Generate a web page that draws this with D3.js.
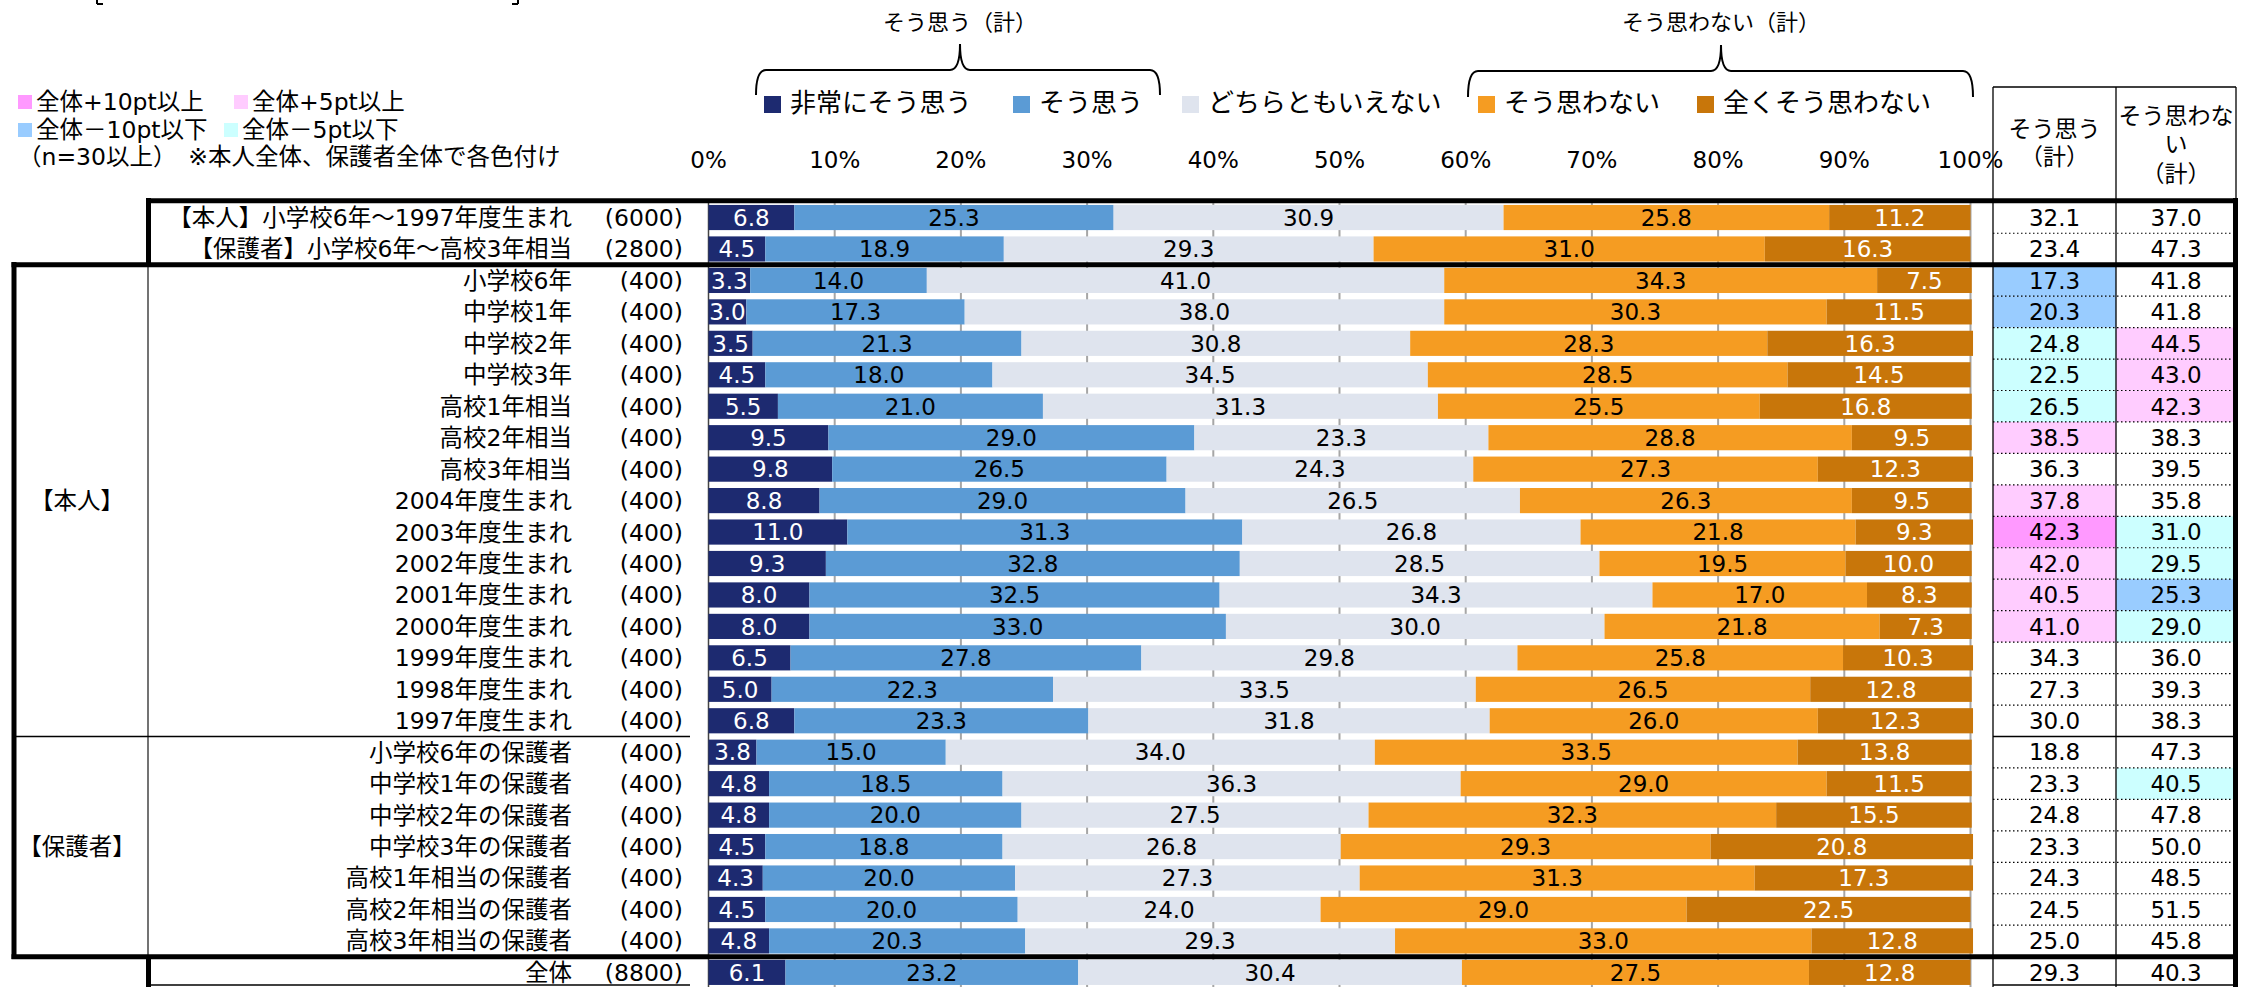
<!DOCTYPE html>
<html><head><meta charset="utf-8">
<script src="https://cdn.jsdelivr.net/npm/d3@7"></script>
<style>
body{margin:0;background:#fff;}
text{font-family:"DejaVu Sans","Noto Sans CJK JP",sans-serif;fill:#000;}
</style></head><body>
<svg id="c" width="2252" height="987"></svg>
<script>
// ---------------- DATA ----------------
const categories = [
  "【本人】小学校6年～1997年度生まれ","【保護者】小学校6年～高校3年相当",
  "小学校6年","中学校1年","中学校2年","中学校3年","高校1年相当","高校2年相当","高校3年相当",
  "2004年度生まれ","2003年度生まれ","2002年度生まれ","2001年度生まれ","2000年度生まれ",
  "1999年度生まれ","1998年度生まれ","1997年度生まれ",
  "小学校6年の保護者","中学校1年の保護者","中学校2年の保護者","中学校3年の保護者",
  "高校1年相当の保護者","高校2年相当の保護者","高校3年相当の保護者","全体"
];
const sampleSizes = ["(6000)","(2800)","(400)","(400)","(400)","(400)","(400)","(400)","(400)",
  "(400)","(400)","(400)","(400)","(400)","(400)","(400)","(400)",
  "(400)","(400)","(400)","(400)","(400)","(400)","(400)","(8800)"];
const seriesNames = ["非常にそう思う","そう思う","どちらともいえない","そう思わない","全くそう思わない"];
const verySo   = [6.8,4.5,3.3,3.0,3.5,4.5,5.5,9.5,9.8,8.8,11.0,9.3,8.0,8.0,6.5,5.0,6.8,3.8,4.8,4.8,4.5,4.3,4.5,4.8,6.1];
const so       = [25.3,18.9,14.0,17.3,21.3,18.0,21.0,29.0,26.5,29.0,31.3,32.8,32.5,33.0,27.8,22.3,23.3,15.0,18.5,20.0,18.8,20.0,20.0,20.3,23.2];
const neither  = [30.9,29.3,41.0,38.0,30.8,34.5,31.3,23.3,24.3,26.5,26.8,28.5,34.3,30.0,29.8,33.5,31.8,34.0,36.3,27.5,26.8,27.3,24.0,29.3,30.4];
const notSo    = [25.8,31.0,34.3,30.3,28.3,28.5,25.5,28.8,27.3,26.3,21.8,19.5,17.0,21.8,25.8,26.5,26.0,33.5,29.0,32.3,29.3,31.3,29.0,33.0,27.5];
const notAtAll = [11.2,16.3,7.5,11.5,16.3,14.5,16.8,9.5,12.3,9.5,9.3,10.0,8.3,7.3,10.3,12.8,12.3,13.8,11.5,15.5,20.8,17.3,22.5,12.8,12.8];
const agreeTotal    = [32.1,23.4,17.3,20.3,24.8,22.5,26.5,38.5,36.3,37.8,42.3,42.0,40.5,41.0,34.3,27.3,30.0,18.8,23.3,24.8,23.3,24.3,24.5,25.0,29.3];
const disagreeTotal = [37.0,47.3,41.8,41.8,44.5,43.0,42.3,38.3,39.5,35.8,31.0,29.5,25.3,29.0,36.0,39.3,38.3,47.3,40.5,47.8,50.0,48.5,51.5,45.8,40.3];
// highlight marks: p10 = +10pt, p5 = +5pt, m10 = -10pt, m5 = -5pt
const agreeMark    = ["","","m10","m10","m5","m5","m5","p5","","p5","p10","p5","p5","p5","","","","","","","","","","",""];
const disagreeMark = ["","","","","p5","p5","p5","","","","m5","m5","m10","m5","","","","","m5","","","","","",""];
const tickValues = [0,10,20,30,40,50,60,70,80,90,100];
const groupNames = ["【本人】","【保護者】"];
const groupFirst = [2,17];
const groupLast  = [16,23];
const markLegend = ["全体+10pt以上","全体+5pt以上","全体－10pt以下","全体－5pt以下"];
const markKeys = ["p10","p5","m10","m5"];

// ---------------- STYLE ----------------
const seriesColors = ["#1d2a70","#5b9bd5","#dfe4ee","#f59c22","#c8760a"];
const labelColors  = ["#fff","#000","#000","#000","#fff"];
const markColors = {p10:"#ff99ff",p5:"#ffccff",m10:"#99ccff",m5:"#ccffff"};

const svg = d3.select("#c");
svg.append("rect").attr("width",2252).attr("height",987).attr("fill","#fff");

const x = d3.scaleLinear().domain([0,100]).range([708.5,1970.5]);
const y = d3.scaleBand().domain(d3.range(categories.length)).range([201.8,988.1]).paddingInner(0.2).paddingOuter(0.1);
const step = y.step();
const rowTop = i => y(i) - step*0.1;
const rowMid = i => y(i) + y.bandwidth()/2;
const fmt = d3.format(".1f");

// gridlines
svg.append("g").selectAll("line").data(tickValues.filter(t=>t>0)).join("line")
  .attr("x1",d=>x(d)).attr("x2",d=>x(d)).attr("y1",203).attr("y2",987)
  .attr("stroke","#a6a6a6").attr("stroke-width",2);
svg.append("line").attr("x1",x(0)).attr("x2",x(0)).attr("y1",203).attr("y2",987)
  .attr("stroke","#444").attr("stroke-width",1.5);

// tick labels
svg.append("g").selectAll("text").data(tickValues).join("text")
  .attr("x",d=>x(d)).attr("y",160).attr("dy","0.36em").attr("text-anchor","middle")
  .attr("font-size",23).text(d=>d+"%");

// stacked bars
const rows = categories.map((c,i)=>({i, v:[verySo[i],so[i],neither[i],notSo[i],notAtAll[i]]}));
const stacked = d3.stack().keys([0,1,2,3,4]).value((d,k)=>d.v[k])(rows);
const layers = svg.append("g").selectAll("g").data(stacked).join("g").attr("fill",(d,k)=>seriesColors[k]);
layers.selectAll("rect").data(d=>d).join("rect")
  .attr("x",d=>x(d[0])).attr("width",d=>x(d[1])-x(d[0]))
  .attr("y",d=>y(d.data.i)).attr("height",y.bandwidth());
const lab = svg.append("g").selectAll("g").data(stacked).join("g");
lab.each(function(layer,k){
  d3.select(this).selectAll("text").data(layer).join("text")
    .attr("x",d=>x((d[0]+d[1])/2)).attr("y",d=>rowMid(d.data.i)).attr("dy","0.36em")
    .attr("text-anchor","middle").attr("font-size",23).style("fill",labelColors[k])
    .text(d=>fmt(d[1]-d[0]));
});

// table cells
const colL = 1993, colM = 2116, colR = 2236;
const tbl = svg.append("g");
tbl.selectAll("rect.a").data(d3.range(categories.length).filter(i=>agreeMark[i])).join("rect")
  .attr("x",colL).attr("width",colM-colL).attr("y",i=>rowTop(i)).attr("height",step)
  .attr("fill",i=>markColors[agreeMark[i]]);
tbl.selectAll("rect.b").data(d3.range(categories.length).filter(i=>disagreeMark[i])).join("rect")
  .attr("x",colM).attr("width",colR-colM).attr("y",i=>rowTop(i)).attr("height",step)
  .attr("fill",i=>markColors[disagreeMark[i]]);
tbl.selectAll("text.a").data(agreeTotal).join("text")
  .attr("x",(colL+colM)/2).attr("y",(d,i)=>rowMid(i)).attr("dy","0.36em")
  .attr("text-anchor","middle").attr("font-size",23).text(d=>fmt(d));
tbl.selectAll("text.b").data(disagreeTotal).join("text")
  .attr("x",(colM+colR)/2).attr("y",(d,i)=>rowMid(i)).attr("dy","0.36em")
  .attr("text-anchor","middle").attr("font-size",23).text(d=>fmt(d));

// dotted separators
const dotted = d3.range(1,categories.length).filter(i=>i!==2 && i!==17 && i!==24);
tbl.selectAll("line.d").data(dotted).join("line")
  .attr("x1",colL).attr("x2",colR).attr("y1",i=>rowTop(i)).attr("y2",i=>rowTop(i))
  .attr("stroke","#000").attr("stroke-width",1.2).attr("stroke-dasharray","1.5,2.5");

// row labels
const lbl = svg.append("g").attr("font-size",23.5);
lbl.selectAll("text.c").data(categories).join("text")
  .attr("x",572).attr("y",(d,i)=>rowMid(i)).attr("dy","0.36em").attr("text-anchor","end").text(d=>d);
lbl.selectAll("text.n").data(sampleSizes).join("text")
  .attr("x",683).attr("y",(d,i)=>rowMid(i)).attr("dy","0.36em").attr("text-anchor","end").text(d=>d);
lbl.selectAll("text.g").data(groupNames).join("text")
  .attr("x",77).attr("y",(d,k)=>(rowMid(groupFirst[k])+rowMid(groupLast[k]))/2).attr("dy","0.36em")
  .attr("text-anchor","middle").text(d=>d);

// table header
const hdr = svg.append("g").attr("font-size",23).attr("text-anchor","middle");
hdr.append("text").attr("x",(colL+colM)/2).attr("y",129).attr("dy","0.36em").text("そう思う");
hdr.append("text").attr("x",(colL+colM)/2).attr("y",157).attr("dy","0.36em").text("（計）");
hdr.append("text").attr("x",(colM+colR)/2).attr("y",116).attr("dy","0.36em").text("そう思わな");
hdr.append("text").attr("x",(colM+colR)/2).attr("y",144).attr("dy","0.36em").text("い");
hdr.append("text").attr("x",(colM+colR)/2).attr("y",174).attr("dy","0.36em").text("（計）");

// lines
const L = svg.append("g").attr("stroke","#000").attr("fill","none");
function ln(x1,y1,x2,y2,w,c){L.append("line").attr("x1",x1).attr("y1",y1).attr("x2",x2).attr("y2",y2).attr("stroke-width",w).attr("stroke",c||"#000");}
// table thin lines
ln(colL,87,colR,87,1.3);
ln(colL,87,colL,987,1.3);
ln(colM,87,colM,987,1.3);
ln(colR,87,colR,200,1.3);
// thin group separator and solid line between groups
ln(148,264,148,957,1.5,"#444");
ln(14,rowTop(17),690,rowTop(17),1.5);
ln(colL,rowTop(17),colR,rowTop(17),1.5);
ln(148,985,690,985,1.5);
ln(colL,985,colR,985,1.5);
// thick lines
const T = 5;
ln(146,rowTop(0)-1,2238,rowTop(0)-1,T);
ln(148.5,198,148.5,267,T);
ln(11.5,rowTop(2),2238,rowTop(2),T);
ln(14,262,14,959,T);
ln(11.5,rowTop(24),2238,rowTop(24),T);
ln(148.5,955,148.5,987,T);
ln(2235.5,198,2235.5,987,T);

// series legend
const legX = [764,1013,1182,1478,1697];
const leg = svg.append("g");
seriesNames.forEach((s,k)=>{
  leg.append("rect").attr("x",legX[k]).attr("y",96).attr("width",17).attr("height",17).attr("fill",seriesColors[k]);
  leg.append("text").attr("x",legX[k]+26).attr("y",103).attr("dy","0.36em").attr("font-size",26).text(s);
});

// braces
function brace(x0,x1,xm,yt,yb,ytip){
  const r=10;
  return `M${x0},${yb} Q${x0},${yt} ${x0+r},${yt} L${xm-r},${yt} Q${xm},${yt} ${xm},${ytip} Q${xm},${yt} ${xm+r},${yt} L${x1-r},${yt} Q${x1},${yt} ${x1},${yb}`;
}
svg.append("path").attr("d",brace(756,1160,960,70,95,44)).attr("fill","none").attr("stroke","#000").attr("stroke-width",2);
svg.append("path").attr("d",brace(1468,1973,1721,71,97,45)).attr("fill","none").attr("stroke","#000").attr("stroke-width",2);
svg.append("text").attr("x",960).attr("y",22).attr("dy","0.36em").attr("text-anchor","middle").attr("font-size",22).text("そう思う（計）");
svg.append("text").attr("x",1721).attr("y",22).attr("dy","0.36em").attr("text-anchor","middle").attr("font-size",22).text("そう思わない（計）");

// colour-coding legend (top left)
const mk = svg.append("g").attr("font-size",23.5);
const mkPos = [[18,102],[234,102],[18,130],[224,130]];
markKeys.forEach((k,j)=>{
  mk.append("rect").attr("x",mkPos[j][0]).attr("y",mkPos[j][1]-7).attr("width",14).attr("height",14).attr("fill",markColors[k]);
  mk.append("text").attr("x",mkPos[j][0]+18).attr("y",mkPos[j][1]).attr("dy","0.36em").text(markLegend[j]);
});
mk.append("text").attr("x",18).attr("y",157).attr("dy","0.36em").text("（n=30以上）　※本人全体、保護者全体で各色付け");

// cut-off title brackets at very top
ln(97,0,97,4,2); ln(97,4,103,4,2);
ln(518,0,518,4,2); ln(512,4,518,4,2);
</script>
</body></html>
